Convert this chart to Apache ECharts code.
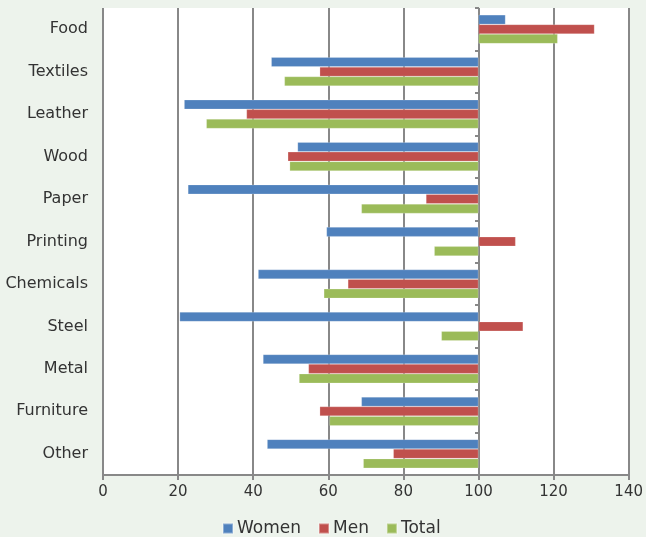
<!DOCTYPE html>
<html><head><meta charset="utf-8">
<script src="https://cdn.jsdelivr.net/npm/echarts@6/dist/echarts.min.js"></script>
<style>html,body{margin:0;padding:0;background:#EDF3EC;}#c{width:646px;height:537px;}</style>
</head><body><div id="c"></div>
<script>
const categories = ['Food','Textiles','Leather','Wood','Paper','Printing','Chemicals','Steel','Metal','Furniture','Other'];
const women = [107.2, 44.8, 21.6, 51.8, 22.6, 59.5, 41.3, 20.4, 42.6, 68.8, 43.7];
const men   = [130.9, 57.7, 38.2, 49.2, 86.0, 109.9, 65.2, 111.9, 54.7, 57.7, 77.3];
const total = [121.1, 48.3, 27.5, 49.7, 68.8, 88.2, 58.8, 90.1, 52.2, 60.3, 69.3];
const xTicks = [0, 20, 40, 60, 80, 100, 120, 140];
const baseline = 100;

const seriesDefs = [
  {name: 'Women', data: women, color: '#4F81BD'},
  {name: 'Men', data: men, color: '#C0504D'},
  {name: 'Total', data: total, color: '#9BBB59'}
];
const series = [];
seriesDefs.forEach((d, i) => {
  series.push({
    name: d.name + '_base', type: 'bar', stack: 's' + i,
    data: d.data.map(v => Math.min(v, baseline)),
    itemStyle: {color: 'transparent'}, silent: true,
    barCategoryGap: '32%', barGap: '0%'
  });
  series.push({
    name: d.name, type: 'bar', stack: 's' + i,
    data: d.data.map(v => Math.abs(v - baseline)),
    itemStyle: {color: d.color, borderColor: 'rgba(255,255,255,0.35)', borderWidth: 0.6},
    barCategoryGap: '32%', barGap: '0%'
  });
});

const chart = echarts.init(document.getElementById('c'));
chart.setOption({
  backgroundColor: '#EDF3EC',
  animation: false,
  textStyle: {fontFamily: 'DejaVu Sans'},
  grid: {left: 103, right: 16, top: 8, bottom: 62, show: true, backgroundColor: '#ffffff', borderWidth: 0},
  legend: {
    data: ['Women', 'Men', 'Total'], top: 520, left: 222, padding: 0,
    icon: 'rect', itemWidth: 10, itemHeight: 10, itemGap: 17,
    textStyle: {fontSize: 17, color: '#333', fontFamily: 'DejaVu Sans', padding: [0, 0, 0, -1]}
  },
  xAxis: {
    type: 'value', min: xTicks[0], max: xTicks[xTicks.length - 1], interval: 20,
    axisLine: {show: true, lineStyle: {color: '#888', width: 2}},
    axisTick: {show: true, length: 5, lineStyle: {color: '#888', width: 2}},
    axisLabel: {fontSize: 15, color: '#333', margin: 10},
    splitLine: {show: true, lineStyle: {color: '#888', width: 2}}
  },
  yAxis: [
    {
      type: 'category', data: categories, inverse: true,
      axisLine: {show: false}, axisTick: {show: false},
      axisLabel: {fontSize: 16, color: '#333', margin: 15}
    },
    {
      type: 'category', data: categories, inverse: true, position: 'left', offset: -376,
      axisLine: {show: false},
      axisTick: {show: true, length: 4, lineStyle: {color: '#888', width: 2}},
      axisLabel: {show: false}
    }
  ],
  series: series
});
</script></body></html>
